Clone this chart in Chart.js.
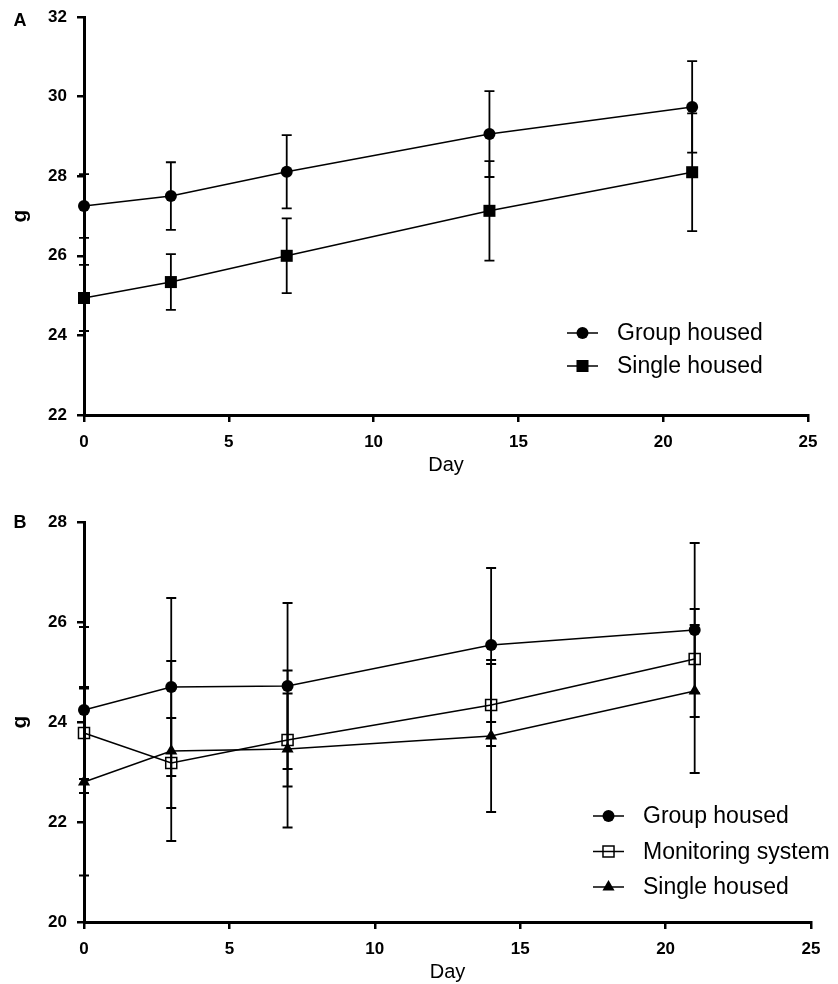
<!DOCTYPE html>
<html>
<head>
<meta charset="utf-8">
<script src="https://cdn.jsdelivr.net/npm/chart.js@4.4.0/dist/chart.umd.min.js"></script>
<style>
  body { margin: 0; background: #fff; }
  canvas { display: block; }
</style>
</head>
<body>
<canvas id="chartA" width="838" height="480"></canvas>
<canvas id="chartB" width="838" height="504"></canvas>
<script>
const days = [0, 3, 7, 14, 21];
const xTicks = [0, 5, 10, 15, 20, 25];

// panel A
const groupA = [27.25, 27.5, 28.11, 29.06, 29.74];
const groupA_sd = [0.8, 0.85, 0.92, 1.08, 1.15];
const singleA = [24.94, 25.34, 26.0, 27.13, 28.1];
const singleA_sd = [0.83, 0.7, 0.94, 1.25, 1.48];

// panel B
const groupB = [24.24, 24.7, 24.72, 25.54, 25.84];
const groupB_sd = [1.66, 1.78, 1.66, 1.54, 1.74];
const monitorB = [23.78, 23.18, 23.64, 24.34, 25.26];
const monitorB_sd = [0.92, 0.9, 0.93, 0.82, 0.68];
const singleB = [22.8, 23.42, 23.46, 23.72, 24.62];
const singleB_sd = [1.87, 1.8, 1.57, 1.52, 1.64];

const FONT = "'Liberation Sans', Arial, sans-serif";

const toPoints = (vals) => vals.map((v, i) => ({ x: days[i], y: v }));

// vertical error bars with caps
const errorBars = {
  id: "errorBars",
  beforeDatasetsDraw(chart) {
    const ctx = chart.ctx;
    const xs = chart.scales.x;
    const ys = chart.scales.y;
    ctx.save();
    ctx.strokeStyle = "#000";
    ctx.lineWidth = 1.8;
    chart.data.datasets.forEach((ds) => {
      ds.data.forEach((pt, i) => {
        const px = xs.getPixelForValue(pt.x);
        const top = ys.getPixelForValue(pt.y + ds.sd[i]);
        const bot = ys.getPixelForValue(pt.y - ds.sd[i]);
        ctx.beginPath();
        ctx.moveTo(px, top);
        ctx.lineTo(px, bot);
        ctx.moveTo(px - 5, top);
        ctx.lineTo(px + 5, top);
        ctx.moveTo(px - 5, bot);
        ctx.lineTo(px + 5, bot);
        ctx.stroke();
      });
    });
    ctx.restore();
  },
};

// panel letter + legend inside the plot
const boxLegend = {
  id: "boxLegend",
  afterDraw(chart, args, opts) {
    const ctx = chart.ctx;
    ctx.save();
    ctx.fillStyle = "#000";
    ctx.font = "bold 18px " + FONT;
    ctx.textBaseline = "middle";
    ctx.textAlign = "center";
    ctx.fillText(opts.letter, 20, opts.letterY);

    ctx.font = "23px " + FONT;
    ctx.textAlign = "left";
    chart.data.datasets.forEach((ds, i) => {
      const cy = opts.y + i * opts.gap;
      ctx.strokeStyle = "#000";
      ctx.lineWidth = 1.5;
      ctx.beginPath();
      ctx.moveTo(opts.x, cy);
      ctx.lineTo(opts.x + 31, cy);
      ctx.stroke();
      ctx.fillStyle = ds.pointBackgroundColor;
      Chart.helpers.drawPoint(ctx, {
        pointStyle: ds.pointStyle,
        radius: ds.pointRadius,
        rotation: 0,
        borderWidth: ds.pointBorderWidth,
      }, opts.x + 15.5, cy);
      ctx.fillStyle = "#000";
      ctx.fillText(ds.label, opts.x + 50, cy + 1);
    });
    ctx.restore();
  },
};

function series(label, vals, sd, style, radius, fill) {
  return {
    label: label,
    data: toPoints(vals),
    sd: sd,
    borderColor: "#000",
    borderWidth: 1.5,
    pointStyle: style,
    pointRadius: radius,
    pointHoverRadius: radius,
    pointBackgroundColor: fill,
    pointBorderColor: "#000",
    pointBorderWidth: fill === "#000" ? 0 : 1.5,
    tension: 0,
    clip: false,
  };
}

function makeOptions(yMin, yMax, pad, xHeight, titlePad, legend) {
  return {
    responsive: false,
    animation: false,
    layout: { padding: pad },
    plugins: {
      legend: { display: false },
      tooltip: { enabled: false },
      boxLegend: legend,
    },
    scales: {
      x: {
        type: "linear",
        min: 0,
        max: 25,
        afterFit: (s) => { s.height = xHeight; s.paddingLeft = 0; s.paddingRight = 0; },
        afterBuildTicks: (s) => { s.ticks = xTicks.map((v) => ({ value: v })); },
        border: { display: true, width: 3, color: "#000" },
        grid: { drawOnChartArea: false, drawTicks: true, tickLength: 7, lineWidth: 2.5, color: "#000" },
        ticks: { color: "#000", padding: 10, font: { family: FONT, size: 17, weight: "bold" } },
        title: { display: true, text: "Day", color: "#000", padding: { top: 0, bottom: titlePad }, font: { family: FONT, size: 20 } },
      },
      y: {
        min: yMin,
        max: yMax,
        afterFit: (s) => { s.width = 84; s.paddingTop = 0; s.paddingBottom = 0; },
        border: { display: true, width: 3, color: "#000" },
        grid: { drawOnChartArea: false, drawTicks: true, tickLength: 7, lineWidth: 2.5, color: "#000" },
        ticks: { stepSize: 2, color: "#000", padding: 10, font: { family: FONT, size: 17, weight: "bold" } },
        title: { display: true, text: "g", color: "#000", padding: { top: 8, bottom: 0 }, font: { family: FONT, size: 21, weight: "bold" } },
      },
    },
  };
}

new Chart(document.getElementById("chartA"), {
  type: "line",
  data: {
    datasets: [
      series("Group housed", groupA, groupA_sd, "circle", 6, "#000"),
      series("Single housed", singleA, singleA_sd, "rect", 8.5, "#000"),
    ],
  },
  options: makeOptions(22, 32, { top: 17, right: 30, left: 0, bottom: 0 }, 65, 3,
    { letter: "A", letterY: 21, x: 567, y: 333, gap: 33 }),
  plugins: [errorBars, boxLegend],
});

new Chart(document.getElementById("chartB"), {
  type: "line",
  data: {
    datasets: [
      series("Group housed", groupB, groupB_sd, "circle", 6, "#000"),
      series("Monitoring system", monitorB, monitorB_sd, "rect", 7.8, "rgba(0,0,0,0)"),
      series("Single housed", singleB, singleB_sd, "triangle", 7, "#000"),
    ],
  },
  options: makeOptions(20, 28, { top: 42, right: 27, left: 0, bottom: 0 }, 62, 0,
    { letter: "B", letterY: 43, x: 593, y: 336, gap: 35.5 }),
  plugins: [errorBars, boxLegend],
});
</script>
</body>
</html>
